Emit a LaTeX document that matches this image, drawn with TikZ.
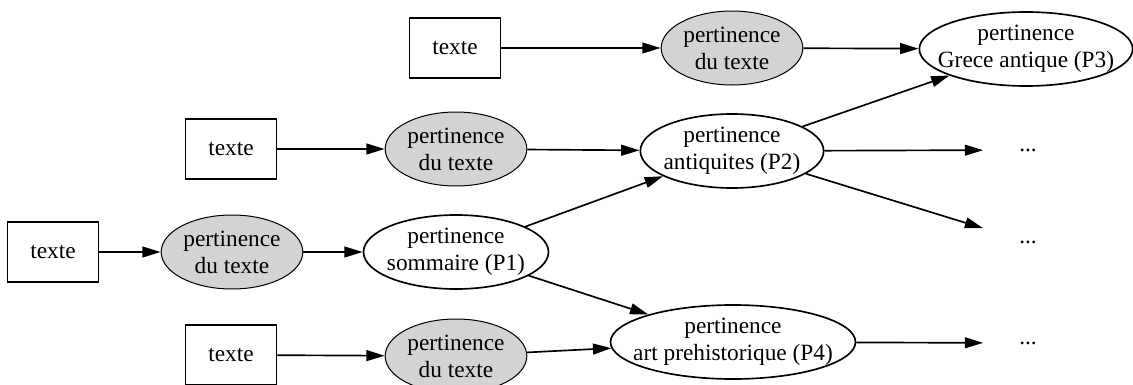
\documentclass[tikz,border=0pt]{standalone}
\usepackage{fontspec}
\setmainfont{Liberation Serif}
\usetikzlibrary{shapes.geometric,arrows.meta}
\definecolor{grisclair}{RGB}{211,211,211}

\begin{document}
\begin{tikzpicture}[x=0.6pt, y=-0.6pt,
  font=\fontsize{14}{16.2}\selectfont,
  textebox/.style={draw, line width=0.9pt, minimum width=54.6pt, minimum height=36pt},
  pertgris/.style={ellipse, draw, line width=0.6pt, fill=grisclair, align=center,
    inner xsep=-8pt, inner ysep=0pt, minimum width=85pt, minimum height=44.4pt},
  pert/.style={ellipse, draw, line width=1pt, align=center,
    inner xsep=-8pt, inner ysep=0pt, minimum height=44.4pt},
  suite/.style={minimum width=53.4pt, minimum height=36pt},
  fleche/.style={-{Triangle[length=11pt,width=6.5pt]}, line width=1pt}]

  \useasboundingbox (0,0) rectangle (1133,385);

  % textes
  \node[textebox] (texte1) at (455,48) {texte};
  \node[textebox] (texte2) at (231,149) {texte};
  \node[textebox] (texte3) at (53,252) {texte};
  \node[textebox] (texte4) at (231,355) {texte};

  % pertinence du texte
  \node[pertgris] (gris1) at (732,48) {pertinence\\du texte};
  \node[pertgris] (gris2) at (456,149) {pertinence\\du texte};
  \node[pertgris] (gris3) at (232,252) {pertinence\\du texte};
  \node[pertgris] (gris4) at (456,356) {pertinence\\du texte};

  % pertinences P1 -- P4
  \node[pert, minimum width=111pt] (p1) at (456,252) {pertinence\\sommaire (P1)};
  \node[pert, minimum width=110pt] (p2) at (732,151) {pertinence\\antiquites (P2)};
  \node[pert, minimum width=128pt] (p3) at (1026,49) {pertinence\\Grece antique (P3)};
  \node[pert, minimum width=147pt] (p4) at (733,342) {pertinence\\art prehistorique (P4)};

  % suites
  \node[suite] (suite2) at (1028,150) {...};
  \node[suite] (suite3) at (1028,242) {...};
  \node[suite] (suite4) at (1028,343) {...};

  % fleches
  \foreach \i in {1,...,4}
    \draw[fleche] (texte\i) -- (gris\i);
  \draw[fleche] (gris1) -- (p3);
  \draw[fleche] (gris2) -- (p2);
  \draw[fleche] (gris3) -- (p1);
  \draw[fleche] (gris4) -- (p4);
  \draw[fleche] (p1) -- (p2);
  \draw[fleche] (p1) -- (p4);
  \draw[fleche] (p2) -- (p3);
  \draw[fleche] (p2) -- (suite2);
  \draw[fleche] (p2) -- (suite3);
  \draw[fleche] (p4) -- (suite4);

\end{tikzpicture}
\end{document}
